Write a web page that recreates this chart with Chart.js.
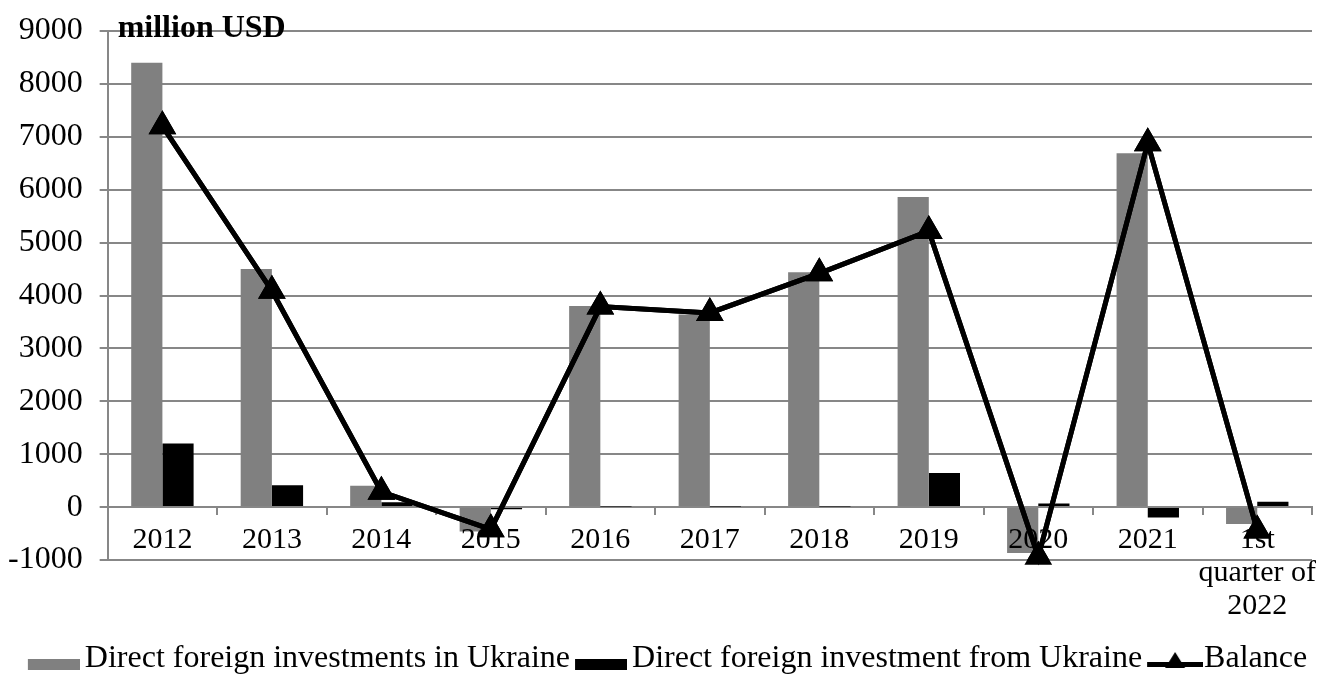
<!DOCTYPE html>
<html>
<head>
<meta charset="utf-8">
<script src="https://cdn.jsdelivr.net/npm/chart.js@4.4.1/dist/chart.umd.min.js"></script>
<style>
  html, body { margin: 0; padding: 0; background: #fff; }
</style>
</head>
<body>
<canvas id="fdiChart" width="1319" height="675"></canvas>
<script>
// Data (million USD)
const periods = ['2012', '2013', '2014', '2015', '2016', '2017', '2018', '2019', '2020', '2021', ['1st', 'quarter of', '2022']];
const fdiInUkraine = [8400, 4500, 405, -460, 3800, 3640, 4440, 5860, -870, 6690, -320];
const fdiFromUkraine = [1200, 415, 90, -40, 10, 10, 10, 645, 70, -195, 100];
const balance = [7200, 4090, 290, -420, 3790, 3670, 4420, 5220, -940, 6880, -440];
const yMin = -1000;
const yMax = 9000;
const yStep = 1000;

const serif = '"Liberation Serif", "Times New Roman", serif';
const gridGray = '#878787';
Chart.defaults.font.family = serif;
Chart.defaults.color = '#000';

const legendBox = 41; // space chart.js keeps for each legend marker

// legend markers drawn on small canvases, shifted so they sit close to the text
function swatch(kind) {
    const shapeW = kind === 'line' ? 56 : 52;
    const w = Math.round(2 * Math.max(shapeW - legendBox / 2, legendBox / 2));
    const off = w / 2 - legendBox / 2;
    const c = document.createElement('canvas');
    c.width = w; c.height = 32;
    const g = c.getContext('2d');
    g.fillStyle = kind === 'line' ? '#000' : kind;
    if (kind === 'line') {
        g.fillRect(off, 19, shapeW, 5);
        const mid = off + shapeW / 2;
        g.beginPath();
        g.moveTo(mid, 9); g.lineTo(mid + 10, 25); g.lineTo(mid - 10, 25);
        g.closePath();
        g.fill();
    } else {
        g.fillRect(off, 16, shapeW, 11);
    }
    return c;
}

const extras = {
    id: 'extras',
    afterLayout(chart) {
        // nudge legend row to the right like the original
        chart.legend.left += 16;
        chart.legend.right += 16;
    },
    afterDraw(chart) {
        // balance line again, on top of the category labels
        chart.getDatasetMeta(0).controller.draw();
        const {ctx, chartArea} = chart;
        ctx.save();
        ctx.font = 'bold 32px ' + serif;
        ctx.fillStyle = '#000';
        ctx.textBaseline = 'alphabetic';
        ctx.fillText('million USD', chartArea.left + 10, chartArea.top + 6);
        ctx.restore();
    }
};

const ctx = document.getElementById('fdiChart').getContext('2d');
const fdiChart = new Chart(ctx, {
    type: 'bar',
    data: {
        labels: periods,
        datasets: [
            {
                label: 'Balance',
                type: 'line',
                data: balance,
                borderColor: '#000',
                backgroundColor: '#000',
                borderWidth: 5,
                tension: 0,
                pointStyle: 'triangle',
                pointRadius: 11,
                pointBackgroundColor: '#000',
                pointBorderColor: '#000',
                order: 0,
            },
            {
                label: 'Direct foreign investments in Ukraine',
                data: fdiInUkraine,
                backgroundColor: '#808080',
                order: 1,
            },
            {
                label: 'Direct foreign investment from Ukraine',
                data: fdiFromUkraine,
                backgroundColor: '#000',
                order: 1,
            }
        ]
    },
    options: {
        responsive: false,
        animation: false,
        devicePixelRatio: 1,
        layout: {
            autoPadding: false,
            padding: { top: 8, left: -9, right: 7, bottom: -10 }
        },
        datasets: {
            bar: {
                categoryPercentage: 0.57,
                barPercentage: 1.0,
            }
        },
        plugins: {
            tooltip: { enabled: false },
            legend: {
                position: 'bottom',
                title: {
                    display: true,
                    text: ' ',
                    font: { size: 1, lineHeight: 1 },
                    padding: { top: 77, bottom: 0 },
                },
                labels: {
                    usePointStyle: true,
                    pointStyleWidth: legendBox,
                    padding: 5,
                    font: { size: 32 },
                    color: '#000',
                    generateLabels(chart) {
                        const order = [1, 2, 0];
                        const marks = ['#808080', '#000', 'line'];
                        return order.map((di, i) => ({
                            text: chart.data.datasets[di].label,
                            pointStyle: swatch(marks[i]),
                            datasetIndex: di,
                            fillStyle: '#000',
                            strokeStyle: '#000',
                            lineWidth: 0,
                            hidden: false,
                        }));
                    }
                }
            }
        },
        scales: {
            x: {
                position: { y: 0 },
                afterFit(scale) {
                    scale.paddingLeft = 0;
                    scale.paddingRight = 0;
                },
                grid: {
                    display: true,
                    drawOnChartArea: false,
                    drawTicks: true,
                    offset: true,
                    tickLength: 7,
                    color: gridGray,
                    lineWidth: 2,
                },
                border: { display: true, color: gridGray, width: 2 },
                ticks: {
                    z: 1,
                    font: { size: 30, lineHeight: 1.1 },
                    padding: 10,
                    maxRotation: 0,
                    autoSkip: false,
                }
            },
            y: {
                min: yMin,
                max: yMax,
                afterFit(scale) {
                    scale.paddingTop = 31;
                },
                grid: {
                    color: gridGray,
                    lineWidth: 2,
                    tickLength: 8,
                },
                border: { display: true, color: gridGray, width: 2 },
                ticks: {
                    stepSize: yStep,
                    font: { size: 32 },
                    padding: 17,
                    callback: (v) => String(v),
                }
            }
        }
    },
    plugins: [extras]
});
</script>
</body>
</html>
